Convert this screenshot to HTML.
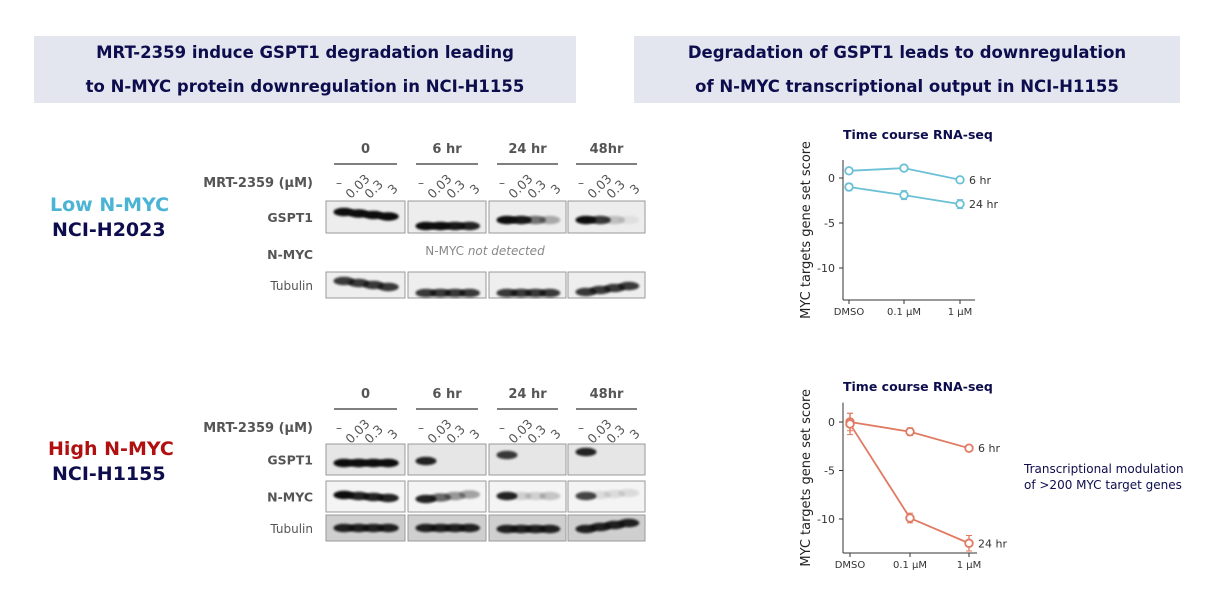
<!DOCTYPE html>
<html><head><meta charset="utf-8"><style>
body{margin:0;width:1218px;height:598px;background:#fff;position:relative;overflow:hidden;font-family:"DejaVu Sans","Liberation Sans",sans-serif}
.box{position:absolute;background:#e3e5ef;color:#0d0d4d;font-weight:bold;font-size:16.5px;text-align:center;line-height:34px}
.t{position:absolute;white-space:nowrap}
</style></head><body>
<div class="box" style="left:34px;top:36px;width:542px;height:67px;padding-top:0px">MRT-2359 induce GSPT1 degradation leading<br>to N-MYC protein downregulation in NCI-H1155</div>
<div class="box" style="left:634px;top:36px;width:546px;height:67px;padding-top:0px">Degradation of GSPT1 leads to downregulation<br>of N-MYC transcriptional output in NCI-H1155</div>
<div class="t" style="left:50px;top:194px;font-size:19px;font-weight:bold;color:#4bb4d4">Low N-MYC</div>
<div class="t" style="left:52px;top:219px;font-size:19px;font-weight:bold;color:#0d0d4d">NCI-H2023</div>
<div class="t" style="left:48px;top:438px;font-size:19px;font-weight:bold;color:#b01010">High N-MYC</div>
<div class="t" style="left:52px;top:463px;font-size:19px;font-weight:bold;color:#0d0d4d">NCI-H1155</div>
<svg id="blots" width="1218" height="598" style="position:absolute;left:0;top:0">
<defs><filter id="bl" x="-20%" y="-100%" width="140%" height="300%"><feGaussianBlur stdDeviation="1.1"/></filter></defs>
</svg>
<svg id="charts" width="1218" height="598" style="position:absolute;left:0;top:0"></svg>
<div class="t" style="left:1024px;top:461px;font-size:12px;color:#0d0d4d;line-height:16px">Transcriptional modulation<br>of &gt;200 MYC target genes</div>
<script>
const NS="http://www.w3.org/2000/svg";
function mk(p,tag,a,txt){const e=document.createElementNS(NS,tag);for(const k in a)e.setAttribute(k,a[k]);if(txt!==undefined)e.textContent=txt;p.appendChild(e);return e;}
const B=document.getElementById('blots');
const groups=["0","6 hr","24 hr","48hr"];
const doses=["–","0.03","0.3","3"];
const px=[[326,405],[408,486],[489,566],[568,645]];
const topGSPT1=[[1,1,1,1],[1,1,0.95,0.9],[1,0.95,0.55,0.3],[1,0.8,0.2,0.06]];
const topTub=[[0.8,0.8,0.8,0.8],[0.8,0.8,0.8,0.8],[0.8,0.8,0.8,0.8],[0.8,0.8,0.8,0.8]];
const botGSPT1=[[1,1,1,1],[0.9,0,0,0],[0.8,0,0,0],[0.9,0,0,0]];
const botNMYC=[[1,0.9,0.9,0.9],[0.9,0.6,0.4,0.35],[0.9,0.15,0.15,0.2],[0.75,0.1,0.1,0.1]];
const botTub=[[0.9,0.9,0.9,0.9],[0.9,0.9,0.9,0.9],[0.9,0.9,0.9,0.9],[0.9,0.9,0.9,0.9]];
function header(y0){
 groups.forEach((g,i)=>{const cx=(px[i][0]+px[i][1])/2;
  const t=mk(B,'text',{x:cx,y:y0,'text-anchor':'middle','font-size':13,'font-weight':'bold',fill:'#555'},g);
  
  mk(B,'line',{x1:px[i][0]+8,x2:px[i][1]-8,y1:y0+11,y2:y0+11,stroke:'#333','stroke-width':1.2});
  doses.forEach((d,j)=>{const lx=px[i][0]+10+j*19;
   if(j===0)mk(B,'text',{x:lx,y:y0+34,'font-size':12,fill:'#555'},'–');
   else mk(B,'text',{x:lx-6+(j===3?6:0),y:y0+42,'font-size':12.5,fill:'#555',transform:`rotate(-45 ${lx} ${y0+42})`},d);
  });
 });
 const l=mk(B,'text',{x:313,y:y0+34,'text-anchor':'end','font-size':13,'font-weight':'bold',fill:'#555'},'MRT-2359 (μM)');
 
}
function row(label,bold,y,h,vals,bg,yOff){
 const l=mk(B,'text',{x:313,y:y+h/2+5,'text-anchor':'end','font-size':bold?12.5:12,'font-weight':bold?'bold':'normal',fill:'#555'},label);
 
 px.forEach((p,i)=>{
  mk(B,'rect',{x:p[0],y:y,width:p[1]-p[0],height:h,fill:bg,stroke:'#999','stroke-width':1});
  vals[i].forEach((v,j)=>{if(v<=0)return;
   const bx=p[0]+12+j*((p[1]-p[0]-20)/4)+6, by=y+yOff[i](j);
   const e=mk(B,'ellipse',{cx:bx,cy:by,rx:10.5,ry:4.2,fill:'#111',opacity:v,filter:'url(#bl)'});
   
  });
 });
}
header(153);
row('GSPT1',1,201,32,topGSPT1,'#ededed',[j=>11+j*1.5,j=>25,j=>19,j=>19]);
const nd=mk(B,'text',{x:485,y:255,'text-anchor':'middle','font-size':12,fill:'#888'});
nd.innerHTML='N-MYC <tspan font-style="italic">not detected</tspan>';

mk(B,'text',{x:313,y:259,'text-anchor':'end','font-size':12.5,'font-weight':'bold',fill:'#555'},'N-MYC');
row('Tubulin',0,272,26,topTub,'#eeeeee',[j=>9+j*2,j=>21,j=>21,j=>20-j*2]);
header(398);
row('GSPT1',1,444,31,botGSPT1,'#e6e6e6',[j=>19,j=>17,j=>11,j=>8]);
row('N-MYC',1,481,31,botNMYC,'#f4f4f4',[j=>14+j,j=>18-j*1.5,j=>15,j=>15-j]);
row('Tubulin',0,515,26,botTub,'#cfcfcf',[j=>13,j=>13,j=>14,j=>14-j*2]);

const C=document.getElementById('charts');
const cats=["DMSO","0.1 μM","1 μM"];
const top6=[0.8,1.1,-0.2], top6e=[0.2,0.2,0.3];
const top24=[-1.0,-1.9,-2.9], top24e=[0.4,0.5,0.5];
const bot6=[0.0,-1.0,-2.7], bot6e=[0.9,0.4,0.3];
const bot24=[-0.2,-9.9,-12.5], bot24e=[1.1,0.5,0.8];
const yTicks=[0,-5,-10];
function chart(o){
 const g=mk(C,'g',{});
 const y=v=>o.y0+(o.y0m10-o.y0)*(v/-10);
 const x=i=>o.xs[i];
 mk(g,'text',{x:o.tx,y:o.ty,'font-size':12.5,'font-weight':'bold',fill:'#0d0d4d'},'Time  course RNA-seq');
 mk(g,'line',{x1:o.ax,x2:o.ax,y1:y(o.ymax),y2:o.xb,stroke:'#333'});
 mk(g,'line',{x1:o.ax,x2:o.axe,y1:o.xb,y2:o.xb,stroke:'#333'});
 yTicks.forEach(t=>{mk(g,'line',{x1:o.ax-4,x2:o.ax,y1:y(t),y2:y(t),stroke:'#333'});
  mk(g,'text',{x:o.ax-8,y:y(t)+4,'text-anchor':'end','font-size':11,fill:'#333'},String(t));});
 cats.forEach((c,i)=>{mk(g,'line',{x1:x(i),x2:x(i),y1:o.xb,y2:o.xb+4,stroke:'#333'});
  mk(g,'text',{x:x(i),y:o.xb+15,'text-anchor':'middle','font-size':10,fill:'#333'},c);});
 const yl=mk(g,'text',{x:0,y:0,'font-size':13,fill:'#222','text-anchor':'middle',transform:`translate(${o.ax-33},${(y(o.ymax)+o.xb)/2}) rotate(-90)`},'MYC targets gene set score');
 
 [[o.s6,o.e6,'6 hr'],[o.s24,o.e24,'24 hr']].forEach(([s,e,lab])=>{
  const pl=mk(g,'polyline',{points:s.map((v,i)=>x(i)+','+y(v)).join(' '),fill:'none',stroke:o.col,'stroke-width':1.8});
  
  s.forEach((v,i)=>{mk(g,'line',{x1:x(i),x2:x(i),y1:y(v+e[i]),y2:y(v-e[i]),stroke:o.col,'stroke-width':1.3});
   mk(g,'line',{x1:x(i)-3,x2:x(i)+3,y1:y(v+e[i]),y2:y(v+e[i]),stroke:o.col});
   mk(g,'line',{x1:x(i)-3,x2:x(i)+3,y1:y(v-e[i]),y2:y(v-e[i]),stroke:o.col});
   const p=mk(g,'circle',{cx:x(i),cy:y(v),r:3.8,fill:'#fff',stroke:o.col,'stroke-width':1.8});
   });
  mk(g,'text',{x:x(2)+9,y:y(s[2])+4,'font-size':11,fill:'#333'},lab);
 });
}
chart({name:'chart-nci-h2023',col:'#6cc0d6',y0:178,y0m10:268,ymax:2,xb:300,ax:843,axe:975,xs:[849,904,960],tx:843,ty:139,s6:top6,e6:top6e,s24:top24,e24:top24e});
chart({name:'chart-nci-h1155',col:'#e07a62',y0:422,y0m10:519,ymax:2,xb:553,ax:843,axe:977,xs:[850,910,969],tx:843,ty:391,s6:bot6,e6:bot6e,s24:bot24,e24:bot24e});
</script>
</body></html>
